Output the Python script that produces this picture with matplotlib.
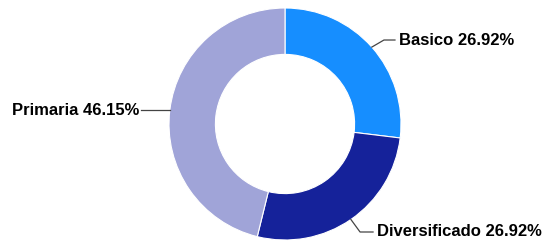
import numpy as np
import matplotlib
matplotlib.use('Agg')
import matplotlib.pyplot as plt

categorias = ['Basico', 'Diversificado', 'Primaria']
valores = [26.92, 26.92, 46.15]
colores = ['#168EFF', '#15229A', '#A0A4D8']

plt.rcParams['font.family'] = ['Liberation Sans', 'DejaVu Sans']

fig = plt.figure(figsize=(5.49, 2.44), dpi=100)
W, H = 549, 244
cx, cy, r = 285, 124, 116
ax = fig.add_axes([(cx - r) / W, (H - cy - r) / H, 2 * r / W, 2 * r / H])

wedges, _ = ax.pie(valores, colors=colores, startangle=90, counterclock=False,
                   radius=1, wedgeprops=dict(width=0.4, edgecolor='white', linewidth=0.8))

# posiciones de las etiquetas (codo, fin de linea) en unidades del eje
layout = {
    'Basico': ((0.853, 0.724), (0.948, 0.724), 'left'),
    'Diversificado': ((0.647, -0.931), (0.759, -0.931), 'left'),
    'Primaria': (None, (-1.24, None), 'right'),
}

for w, cat, val in zip(wedges, categorias, valores):
    ang = np.deg2rad((w.theta1 + w.theta2) / 2)
    x0, y0 = np.cos(ang), np.sin(ang)
    codo, fin, ha = layout[cat]
    if codo is None:
        xs = [x0, fin[0]]
        ys = [y0, y0]
        ty = y0
    else:
        xs = [x0, codo[0], fin[0]]
        ys = [y0, codo[1], fin[1]]
        ty = fin[1]
    ax.plot(xs, ys, color='#444444', lw=0.9, clip_on=False)
    tx = xs[-1] + (0.035 if ha == 'left' else -0.015)
    ax.text(tx, ty, f'{cat} {val:.2f}%', ha=ha, va='center', fontsize=12,
            fontweight='bold', color='black')

ax.set_xlim(-1, 1)
ax.set_ylim(-1, 1)
ax.set_aspect('auto')
ax.axis('off')

fig.savefig('out.png', dpi=100)
